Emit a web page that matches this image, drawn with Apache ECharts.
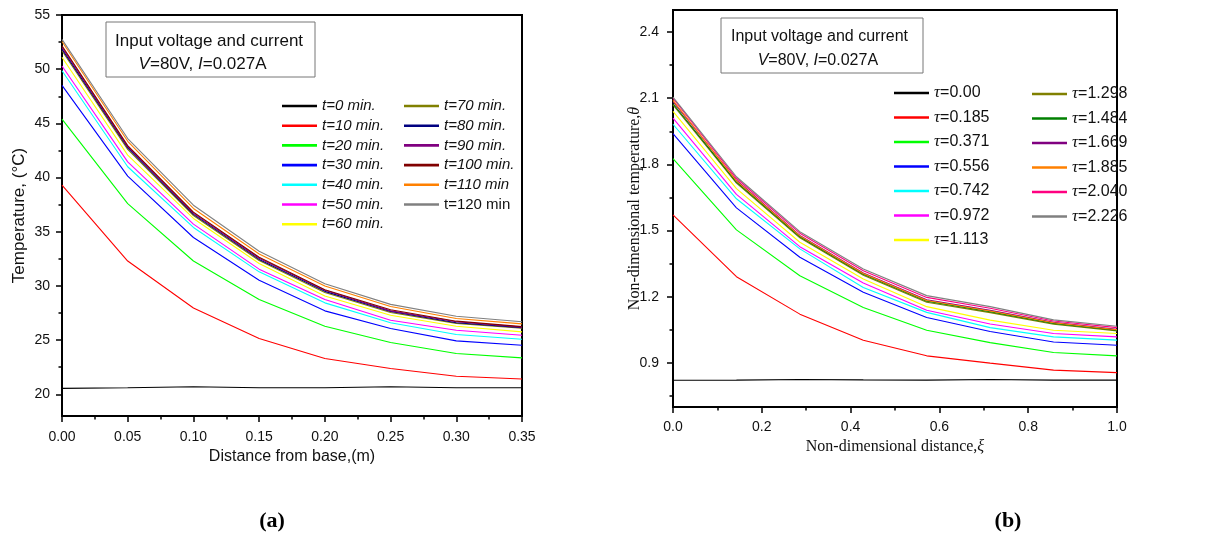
<!DOCTYPE html>
<html><head><meta charset="utf-8">
<script src="https://cdn.jsdelivr.net/npm/echarts@6/dist/echarts.min.js"></script>
<style>html,body{margin:0;padding:0;background:#fff}#c{width:1220px;height:536px}</style>
</head><body><div id="c"></div>
<script>
// ---------- Panel (a): temperature vs distance ----------
const distA = [0, 0.05, 0.10, 0.15, 0.20, 0.25, 0.30, 0.35];
const namesA = ['t=0 min.','t=10 min.','t=20 min.','t=30 min.','t=40 min.','t=50 min.','t=60 min.',
                't=70 min.','t=80 min.','t=90 min.','t=100 min.','t=110 min','t=120 min'];
const colorsA = ['#000000','#ff0000','#00ff00','#0000ff','#00ffff','#ff00ff','#ffff00',
                 '#808000','#000080','#800080','#800000','#ff8000','#808080'];
const tA0   = [20.55, 20.6, 20.7, 20.6, 20.6, 20.7, 20.6, 20.6];
const tA10  = [39.3, 32.3, 27.97, 25.15, 23.3, 22.38, 21.67, 21.42];
const tA20  = [45.4, 37.6, 32.3, 28.75, 26.28, 24.78, 23.76, 23.36];
const tA30  = [48.5, 40.13, 34.47, 30.53, 27.7, 26.07, 24.93, 24.53];
const tA40  = [49.86, 41.0, 35.4, 31.3, 28.44, 26.6, 25.52, 25.08];
const tA50  = [50.3, 41.45, 35.7, 31.55, 28.75, 26.84, 25.91, 25.45];
const tA60  = [51.1, 42.07, 36.23, 32.07, 29.08, 27.3, 26.28, 25.76];
const tA70  = [51.7, 42.6, 36.5, 32.35, 29.4, 27.55, 26.55, 26.1];
const tA80  = [51.85, 42.75, 36.6, 32.45, 29.5, 27.65, 26.6, 26.15];
const tA90  = [52.0, 42.85, 36.7, 32.55, 29.6, 27.7, 26.7, 26.2];
const tA100 = [52.15, 42.95, 36.8, 32.65, 29.65, 27.8, 26.75, 26.25];
const tA110 = [52.55, 43.35, 37.15, 32.95, 30.0, 28.1, 27.0, 26.5];
const tA120 = [52.75, 43.6, 37.45, 33.2, 30.2, 28.3, 27.2, 26.7];
const valuesA = [tA0,tA10,tA20,tA30,tA40,tA50,tA60,tA70,tA80,tA90,tA100,tA110,tA120];
const yTicksA = [20,25,30,35,40,45,50,55];
const yMinorA = [22.5,27.5,32.5,37.5,42.5,47.5,52.5];

// ---------- Panel (b): non-dimensional ----------
const xiB = [0, 0.1429, 0.2857, 0.4286, 0.5714, 0.7143, 0.8571, 1.0];
const namesB = ['τ=0.00','τ=0.185','τ=0.371','τ=0.556','τ=0.742','τ=0.972','τ=1.113',
                'τ=1.298','τ=1.484','τ=1.669','τ=1.885','τ=2.040','τ=2.226'];
const colorsB = ['#000000','#ff0000','#00ff00','#0000ff','#00ffff','#ff00ff','#ffff00',
                 '#808000','#008000','#800080','#ff8000','#ff0080','#808080'];
const thB0    = [0.821, 0.822, 0.825, 0.823, 0.822, 0.825, 0.822, 0.822];
const thB185  = [1.571, 1.291, 1.121, 1.003, 0.932, 0.899, 0.867, 0.856];
const thB371  = [1.826, 1.503, 1.295, 1.151, 1.048, 0.992, 0.947, 0.932];
const thB556  = [1.939, 1.603, 1.379, 1.22, 1.106, 1.042, 0.995, 0.98];
const thB742  = [1.982, 1.644, 1.417, 1.242, 1.129, 1.06, 1.018, 1.003];
const thB972  = [2.01, 1.664, 1.427, 1.262, 1.139, 1.076, 1.033, 1.018];
const thB1113 = [2.04, 1.69, 1.447, 1.28, 1.155, 1.094, 1.048, 1.033];
const thB1298 = [2.07, 1.715, 1.467, 1.297, 1.175, 1.128, 1.075, 1.045];
const thB1484 = [2.075, 1.72, 1.472, 1.302, 1.18, 1.132, 1.079, 1.048];
const thB1669 = [2.085, 1.728, 1.478, 1.308, 1.186, 1.138, 1.084, 1.052];
const thB1885 = [2.09, 1.725, 1.476, 1.305, 1.183, 1.135, 1.082, 1.05];
const thB2040 = [2.1, 1.737, 1.488, 1.318, 1.197, 1.148, 1.09, 1.06];
const thB2226 = [2.105, 1.744, 1.495, 1.326, 1.205, 1.155, 1.095, 1.066];
const valuesB = [thB0,thB185,thB371,thB556,thB742,thB972,thB1113,thB1298,thB1484,thB1669,thB1885,thB2040,thB2226];
const yTicksB = [0.9,1.2,1.5,1.8,2.1,2.4];
const yMinorB = [0.75,1.05,1.35,1.65,1.95,2.25];

const SANS = 'Liberation Sans, Arial, sans-serif';
const SERIF = 'Liberation Serif, Times New Roman, serif';

const series = [];
valuesA.forEach((v, i) => series.push({
  name: namesA[i], type: 'line', xAxisIndex: 0, yAxisIndex: 0, symbol: 'none',
  color: colorsA[i], lineStyle: {width: 1.1, color: colorsA[i]},
  data: distA.map((x, j) => [x, v[j]])
}));
valuesB.forEach((v, i) => series.push({
  name: namesB[i], type: 'line', xAxisIndex: 1, yAxisIndex: 2, symbol: 'none',
  color: colorsB[i], lineStyle: {width: 1.1, color: colorsB[i]},
  data: xiB.map((x, j) => [x, v[j]])
}));

const axisLine = {show: true, onZero: false, lineStyle: {color: '#000', width: 2}};
const majorTick = {show: true, inside: false, length: 6, lineStyle: {color: '#000', width: 1.5}};
const lbl = {color: '#111', fontSize: 14, fontFamily: SANS};

function legend(names, left, top, gap, isA) {
  return {
    data: names.map(n => ({name: n, icon: 'rect'})), orient: 'vertical', left: left, top: top, padding: 0,
    itemWidth: 35, itemHeight: 2.6, itemGap: gap, selectedMode: false,
    formatter: isA
      ? (n => n === 't=120 min' ? '{n|' + n + '}' : '{i|' + n + '}')
      : (n => '{tau|τ}{n|' + n.slice(1) + '}'),
    textStyle: {
      color: '#111', fontSize: isA ? 15 : 16, fontFamily: SANS, lineHeight: 18, padding: [0,0,0,0],
      rich: {
        i: {fontStyle: 'italic', fontSize: 15, fontFamily: SANS, color: '#111', lineHeight: 18},
        n: {fontSize: isA ? 15 : 16, fontFamily: SANS, color: '#111', lineHeight: 18},
        tau: {fontStyle: 'italic', fontSize: 17, fontFamily: SERIF, color: '#111', lineHeight: 18}
      }
    }
  };
}

const option = {
  animation: false,
  backgroundColor: '#fff',
  grid: [
    {left: 62, top: 15, width: 460, height: 401, show: true, borderColor: '#000', borderWidth: 2, backgroundColor: 'transparent'},
    {left: 673, top: 10, width: 444, height: 397, show: true, borderColor: '#000', borderWidth: 2, backgroundColor: 'transparent'}
  ],
  xAxis: [
    {type: 'value', gridIndex: 0, min: 0, max: 0.35, interval: 0.05,
     axisLine, axisTick: majorTick,
     minorTick: {show: true, splitNumber: 2, length: 3.5, lineStyle: {color: '#000', width: 1.5}},
     splitLine: {show: false}, minorSplitLine: {show: false},
     axisLabel: Object.assign({margin: 14, formatter: v => v.toFixed(2), showMaxLabel: true}, lbl),
     name: 'Distance from base,(m)', nameLocation: 'middle', nameGap: 33, nameMoveOverlap: false,
     nameTextStyle: {fontSize: 16, fontFamily: SANS, color: '#111'}},
    {type: 'value', gridIndex: 1, min: 0, max: 1, interval: 0.2,
     axisLine, axisTick: majorTick,
     minorTick: {show: true, splitNumber: 2, length: 3.5, lineStyle: {color: '#000', width: 1.5}},
     splitLine: {show: false}, minorSplitLine: {show: false},
     axisLabel: Object.assign({margin: 13, formatter: v => v.toFixed(1)}, lbl),
     name: 'Non-dimensional distance,{x|ξ}', nameLocation: 'middle', nameGap: 32, nameMoveOverlap: false,
     nameTextStyle: {fontSize: 16, fontFamily: SERIF, color: '#111',
       rich: {x: {fontSize: 16, fontFamily: SERIF, fontStyle: 'italic', color: '#111'}}}}
  ],
  yAxis: [
    {type: 'value', gridIndex: 0, min: 18, max: 55, position: 'left',
     axisLine, axisTick: Object.assign({customValues: yTicksA}, majorTick),
     splitLine: {show: false},
     axisLabel: Object.assign({margin: 12, customValues: yTicksA, formatter: v => String(v)}, lbl),
     name: 'Temperature, (°C)', nameLocation: 'middle', nameGap: 34, nameMoveOverlap: false,
     nameTextStyle: {fontSize: 17, fontFamily: SANS, color: '#111'}},
    {type: 'value', gridIndex: 0, min: 18, max: 55, position: 'left',
     axisLine: {show: false}, axisLabel: {show: false}, splitLine: {show: false},
     axisTick: {show: true, customValues: yMinorA, length: 3.5, lineStyle: {color: '#000', width: 1.5}}},
    {type: 'value', gridIndex: 1, min: 0.7, max: 2.5, position: 'left',
     axisLine, axisTick: Object.assign({customValues: yTicksB}, majorTick),
     splitLine: {show: false},
     axisLabel: Object.assign({margin: 14, customValues: yTicksB, formatter: v => v.toFixed(1)}, lbl),
     name: 'Non-dimensional temperature,{t|θ}', nameLocation: 'middle', nameGap: 30, nameMoveOverlap: false,
     nameTextStyle: {fontSize: 16, fontFamily: SERIF, color: '#111',
       rich: {t: {fontSize: 16, fontFamily: SERIF, fontStyle: 'italic', color: '#111'}}}},
    {type: 'value', gridIndex: 1, min: 0.7, max: 2.5, position: 'left',
     axisLine: {show: false}, axisLabel: {show: false}, splitLine: {show: false},
     axisTick: {show: true, customValues: yMinorB, length: 3.5, lineStyle: {color: '#000', width: 1.5}}}
  ],
  legend: [
    legend(namesA.slice(0, 7), 282, 97, 1.7, true),
    legend(namesA.slice(7), 404, 97, 1.7, true),
    legend(namesB.slice(0, 7), 894, 84, 6.5, false),
    legend(namesB.slice(7), 1032, 85, 6.5, false)
  ],
  graphic: [
    {type: 'rect', shape: {x: 106, y: 22, width: 209, height: 55}, style: {fill: '#fff', stroke: '#777', lineWidth: 1}, z: 10},
    {type: 'text', left: 115, top: 30, z: 11, style: {
      text: 'Input voltage and current\n     {i|V}=80V, {i|I}=0.027A', fill: '#111',
      font: '17px ' + SANS, lineHeight: 23,
      rich: {i: {fontStyle: 'italic', fontSize: 17, fontFamily: SANS, fill: '#111', lineHeight: 23}}}},
    {type: 'rect', shape: {x: 721, y: 18, width: 202, height: 55}, style: {fill: '#fff', stroke: '#777', lineWidth: 1}, z: 10},
    {type: 'text', left: 731, top: 25, z: 11, style: {
      text: 'Input voltage and current\n      {i|V}=80V, {i|I}=0.027A', fill: '#111',
      font: '16px ' + SANS, lineHeight: 24,
      rich: {i: {fontStyle: 'italic', fontSize: 16, fontFamily: SANS, fill: '#111', lineHeight: 24}}}},
    {type: 'text', x: 272, y: 521, style: {text: '(a)', fill: '#000', font: 'bold 22px ' + SERIF, textAlign: 'center', textVerticalAlign: 'middle'}},
    {type: 'text', x: 1008, y: 521, style: {text: '(b)', fill: '#000', font: 'bold 22px ' + SERIF, textAlign: 'center', textVerticalAlign: 'middle'}}
  ],
  series
};
const chart = echarts.init(document.getElementById('c'), null, {renderer: 'canvas'});
chart.setOption(option);
</script></body></html>
